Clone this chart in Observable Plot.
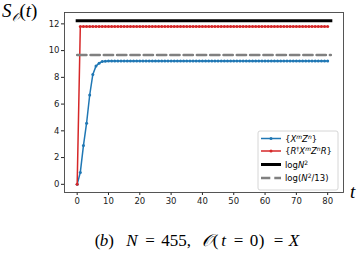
<!DOCTYPE html>
<html><head><meta charset="utf-8">
<script src="https://cdn.jsdelivr.net/npm/d3@7"></script>
<script src="https://cdn.jsdelivr.net/npm/@observablehq/plot@0.6"></script>
<style>body{margin:0;background:#fff} svg{display:block}</style>
</head><body><div id="chart"></div>
<script>
// Krylov complexity-like entropy S_O(t) for two bases
const blueValues = [0, 0.89, 2.9, 4.57, 6.68, 8.22, 8.84, 9.06, 9.19, 9.21,
  9.22, 9.22, 9.22, 9.22, 9.22, 9.22, 9.22, 9.22, 9.22, 9.22,
  9.22, 9.22, 9.22, 9.22, 9.22, 9.22, 9.22, 9.22, 9.22, 9.22,
  9.22, 9.22, 9.22, 9.22, 9.22, 9.22, 9.22, 9.22, 9.22, 9.22,
  9.22, 9.22, 9.22, 9.22, 9.22, 9.22, 9.22, 9.22, 9.22, 9.22,
  9.22, 9.22, 9.22, 9.22, 9.22, 9.22, 9.22, 9.22, 9.22, 9.22,
  9.22, 9.22, 9.22, 9.22, 9.22, 9.22, 9.22, 9.22, 9.22, 9.22,
  9.22, 9.22, 9.22, 9.22, 9.22, 9.22, 9.22, 9.22, 9.22, 9.22, 9.22];
const redValues = [0, 11.8, 11.8, 11.8, 11.8, 11.8, 11.8, 11.8, 11.8, 11.8,
  11.8, 11.8, 11.8, 11.8, 11.8, 11.8, 11.8, 11.8, 11.8, 11.8,
  11.8, 11.8, 11.8, 11.8, 11.8, 11.8, 11.8, 11.8, 11.8, 11.8,
  11.8, 11.8, 11.8, 11.8, 11.8, 11.8, 11.8, 11.8, 11.8, 11.8,
  11.8, 11.8, 11.8, 11.8, 11.8, 11.8, 11.8, 11.8, 11.8, 11.8,
  11.8, 11.8, 11.8, 11.8, 11.8, 11.8, 11.8, 11.8, 11.8, 11.8,
  11.8, 11.8, 11.8, 11.8, 11.8, 11.8, 11.8, 11.8, 11.8, 11.8,
  11.8, 11.8, 11.8, 11.8, 11.8, 11.8, 11.8, 11.8, 11.8, 11.8, 11.8];
const logN2 = 12.24;          // log(455^2)
const logN2over13 = 9.675;    // log(455^2/13)
const hlineT = [0, 81];
const xTicks = [0, 10, 20, 30, 40, 50, 60, 70, 80];
const yTicks = [0, 2, 4, 6, 8, 10, 12];
const colors = {blue: "#1f77b4", red: "#d62728", black: "#000000", gray: "#808080"};

const blue = blueValues.map((s, t) => ({t, s}));
const red = redValues.map((s, t) => ({t, s}));
const hBlack = hlineT.map(t => ({t, s: logN2}));
const hGray = hlineT.map(t => ({t, s: logN2over13}));

const svg = Plot.plot({
  width: 360, height: 273,
  marginLeft: 64, marginRight: 17, marginTop: 12, marginBottom: 81,
  x: {domain: [-4.05, 85.05]},
  y: {domain: [-0.612, 12.85]},
  style: {fontFamily: "DejaVu Sans", fontSize: "8.5px", color: "#222", background: "#fff", overflow: "visible"},
  marks: [
    Plot.axisX({ticks: xTicks, tickSize: 3, tickPadding: 2, label: null}),
    Plot.axisY({ticks: yTicks, tickSize: 3, tickPadding: 2, label: null}),
    Plot.line(blue, {x: "t", y: "s", stroke: colors.blue, strokeWidth: 1.5}),
    Plot.dot(blue, {x: "t", y: "s", fill: colors.blue, r: 1.5}),
    Plot.line(red, {x: "t", y: "s", stroke: colors.red, strokeWidth: 1.5}),
    Plot.dot(red, {x: "t", y: "s", fill: colors.red, r: 1.5}),
    Plot.line(hBlack, {x: "t", y: "s", stroke: colors.black, strokeWidth: 3, strokeLinecap: "square"}),
    Plot.line(hGray, {x: "t", y: "s", stroke: colors.gray, strokeWidth: 2.5, strokeDasharray: "9.3,4"}),
    Plot.frame({stroke: "#444", strokeWidth: 0.9})
  ]
});

const s = d3.select(svg);
const serif = "Liberation Serif, DejaVu Serif, serif";

// y label S_O(t)
const yl = s.append("text").attr("x", 2).attr("y", 17).attr("text-anchor", "start").attr("font-family", serif).attr("font-size", 19).attr("fill", "#000");
yl.append("tspan").attr("font-style", "italic").text("S");
yl.append("tspan").attr("font-size", 12).attr("dy", 4).attr("font-style", "italic").text("𝒪");
yl.append("tspan").attr("dy", -4).text("(");
yl.append("tspan").attr("font-style", "italic").text("t");
yl.append("tspan").text(")");

// x label t
s.append("text").attr("x", 350).attr("y", 198).attr("text-anchor", "start").attr("font-family", serif).attr("font-size", 19)
  .attr("font-style", "italic").attr("fill", "#000").text("t");

// caption: pieces placed like LaTeX math spacing (x = centre of each piece)
const pieces = [
  [97.5, "(", false], [104, "b", true], [111, ")", false],
  [132, "N", true], [150, "=", false], [176, "455,", false],
  [207, "𝒪", true], [215.5, "(", false], [223.5, "t", true], [238.5, "=", false],
  [254, "0", false], [261.5, ")", false], [278.5, "=", false], [294, "X", true]
];
pieces.forEach(([x, txt, it]) => {
  const t = s.append("text").attr("x", x).attr("y", 246).attr("text-anchor", "middle")
    .attr("font-family", serif).attr("font-size", 17).attr("fill", "#000").text(txt);
  if (it) t.attr("font-style", "italic");
});

// legend
const lg = s.append("g").attr("font-family", "DejaVu Sans").attr("font-size", 8.5).attr("fill", "#000").attr("text-anchor", "start");
lg.append("rect").attr("x", 258).attr("y", 131).attr("width", 80).attr("height", 59).attr("rx", 2)
  .attr("fill", "#fff").attr("fill-opacity", 0.8).attr("stroke", "#ccc").attr("stroke-width", 0.8);
const rows = [138.5, 151, 164.5, 178];
lg.append("line").attr("x1", 261).attr("x2", 281).attr("y1", rows[0]).attr("y2", rows[0]).attr("stroke", colors.blue).attr("stroke-width", 1.5);
lg.append("circle").attr("cx", 271).attr("cy", rows[0]).attr("r", 1.5).attr("fill", colors.blue);
lg.append("line").attr("x1", 261).attr("x2", 281).attr("y1", rows[1]).attr("y2", rows[1]).attr("stroke", colors.red).attr("stroke-width", 1.5);
lg.append("circle").attr("cx", 271).attr("cy", rows[1]).attr("r", 1.5).attr("fill", colors.red);
lg.append("line").attr("x1", 261).attr("x2", 281).attr("y1", rows[2]).attr("y2", rows[2]).attr("stroke", colors.black).attr("stroke-width", 3);
lg.append("line").attr("x1", 261).attr("x2", 281).attr("y1", rows[3]).attr("y2", rows[3]).attr("stroke", colors.gray).attr("stroke-width", 2.5).attr("stroke-dasharray", "9.3,4");

function row(y) { return lg.append("text").attr("x", 285).attr("y", y + 3).attr("text-anchor", "start"); }
let r0 = row(rows[0]);
r0.append("tspan").text("{");
r0.append("tspan").attr("font-style", "italic").text("X");
r0.append("tspan").attr("font-style", "italic").attr("font-size", 6).attr("dy", -3).text("m");
r0.append("tspan").attr("font-style", "italic").attr("dy", 3).text("Z");
r0.append("tspan").attr("font-style", "italic").attr("font-size", 6).attr("dy", -3).text("n");
r0.append("tspan").attr("dy", 3).text("}");
let r1 = row(rows[1]);
r1.append("tspan").text("{");
r1.append("tspan").attr("font-style", "italic").text("R");
r1.append("tspan").attr("font-size", 6).attr("dy", -3).text("†");
r1.append("tspan").attr("font-style", "italic").attr("dy", 3).text("X");
r1.append("tspan").attr("font-style", "italic").attr("font-size", 6).attr("dy", -3).text("m");
r1.append("tspan").attr("font-style", "italic").attr("dy", 3).text("Z");
r1.append("tspan").attr("font-style", "italic").attr("font-size", 6).attr("dy", -3).text("n");
r1.append("tspan").attr("font-style", "italic").attr("dy", 3).text("R");
r1.append("tspan").text("}");
let r2 = row(rows[2]);
r2.append("tspan").text("log");
r2.append("tspan").attr("font-style", "italic").text("N");
r2.append("tspan").attr("font-size", 6).attr("dy", -3).text("2");
let r3 = row(rows[3]);
r3.append("tspan").text("log(");
r3.append("tspan").attr("font-style", "italic").text("N");
r3.append("tspan").attr("font-size", 6).attr("dy", -3).text("2");
r3.append("tspan").attr("dy", 3).text("/13)");

document.getElementById("chart").appendChild(svg);
</script></body></html>
